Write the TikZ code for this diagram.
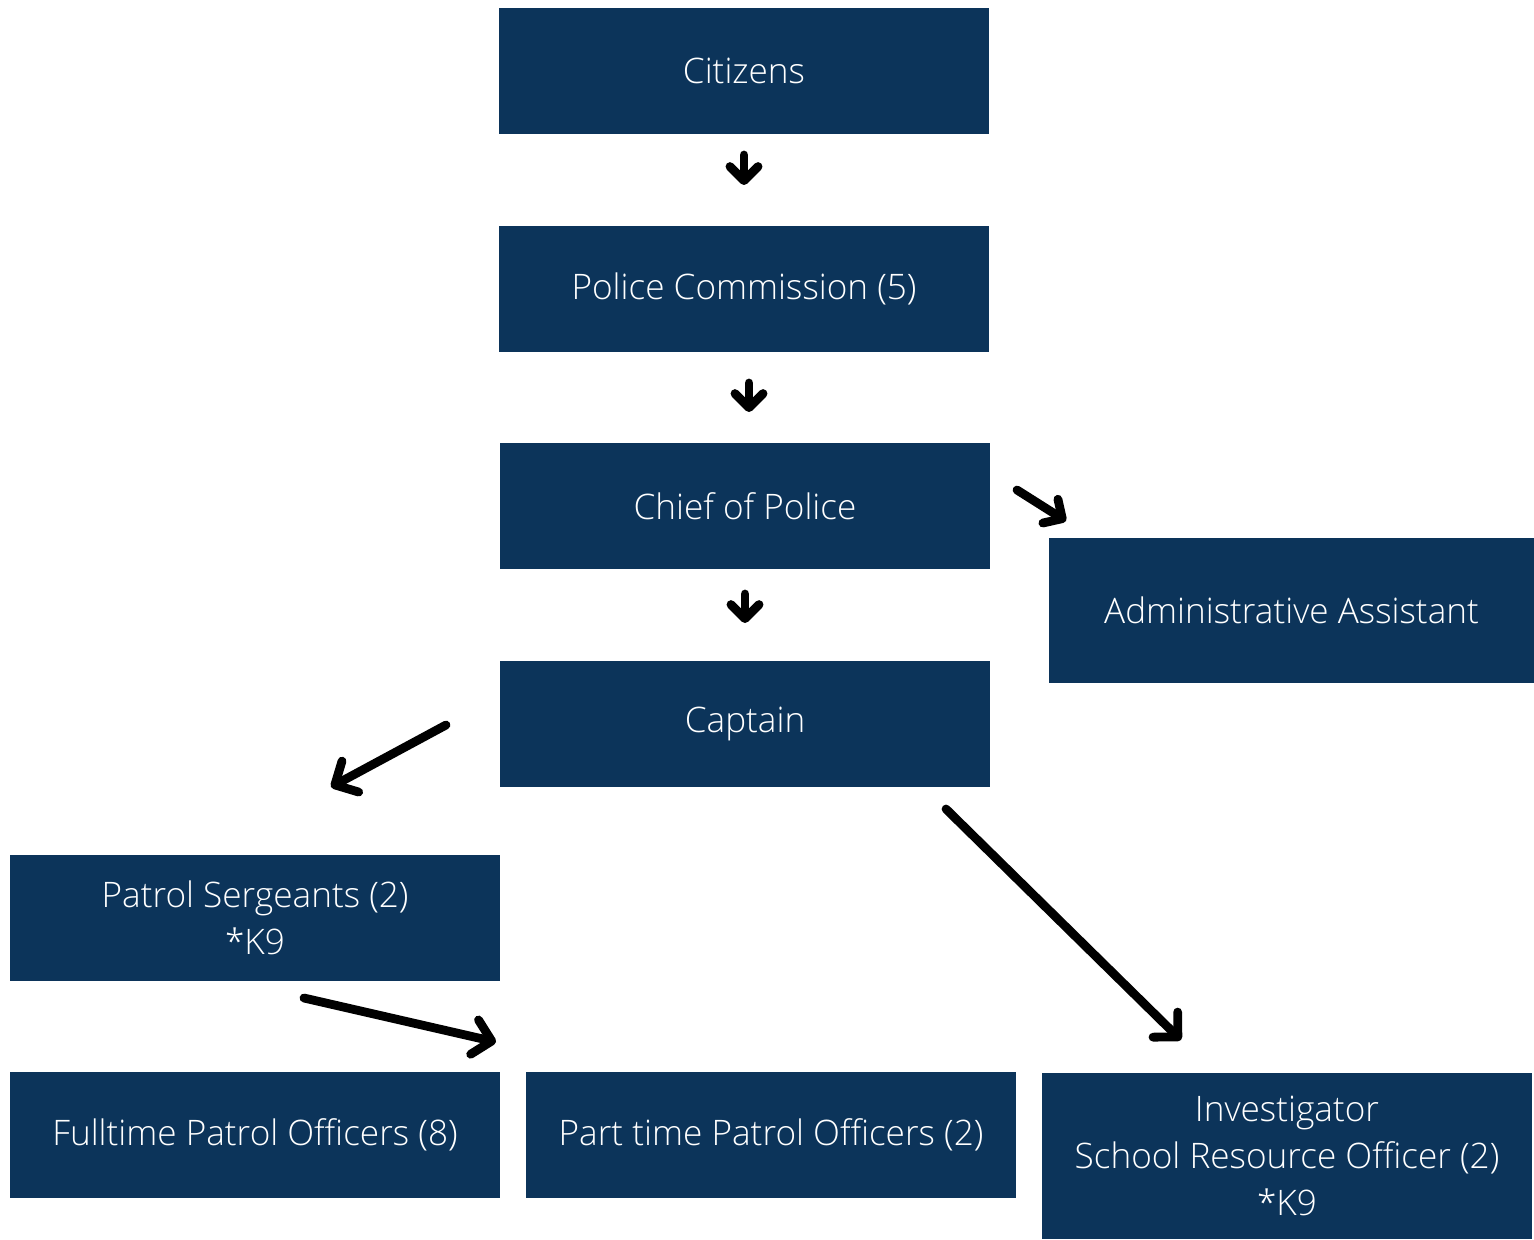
\documentclass[tikz,border=0pt]{standalone}
\usepackage{fontspec}
\setmainfont{Open Sans}[UprightFont=* Light]
\usetikzlibrary{arrows.meta}
\definecolor{navy}{HTML}{0C345A}
\tikzset{
  unit/.style={fill=navy, text=white, minimum width=4.9cm, minimum height=1.26cm,
    inner sep=0pt, align=center, font=\fontsize{10}{13.4}\selectfont},
  link/.style={line width=2.5pt, line cap=round,
    -{Straight Barb[length=4pt,width=8pt,round]}},
  longlink/.style={link, -{Straight Barb[length=5pt,width=10pt,round]}}
}

\begin{document}
\begin{tikzpicture}
  \useasboundingbox (0,0) rectangle (15.34,-12.39);
  % boxes
  \node[unit] (citizens) at (7.44,-0.71) {Citizens};
  \node[unit] (commission) at (7.44,-2.89) {Police Commission (5)};
  \node[unit] (chief) at (7.45,-5.06) {Chief of Police};
  \node[unit, minimum width=4.85cm, minimum height=1.45cm] (admin) at (12.915,-6.105) {Administrative Assistant};
  \node[unit] (captain) at (7.45,-7.24) {Captain};
  \node[unit] (sergeants) at (2.55,-9.18) {Patrol Sergeants (2)\\*K9};
  \node[unit] (fulltime) at (2.55,-11.35) {Fulltime Patrol Officers (8)};
  \node[unit] (parttime) at (7.71,-11.35) {Part time Patrol Officers (2)};
  \node[unit, minimum height=1.66cm] (investigator) at (12.87,-11.56) {Investigator\\School Resource Officer (2)\\*K9};
  % arrow ends
  \coordinate (c1a) at (7.44,-1.55);
  \coordinate (c1b) at (7.44,-1.85);
  \coordinate (c2a) at (7.49,-3.83);
  \coordinate (c2b) at (7.49,-4.12);
  \coordinate (c3a) at (7.45,-5.94);
  \coordinate (c3b) at (7.45,-6.23);
  \coordinate (c4a) at (10.17,-4.90);
  \coordinate (c4b) at (10.66,-5.21);
  \coordinate (c5a) at (4.46,-7.25);
  \coordinate (c5b) at (3.31,-7.87);
  \coordinate (c6a) at (3.04,-9.98);
  \coordinate (c6b) at (4.96,-10.42);
  \coordinate (c7a) at (9.46,-8.09);
  \coordinate (c7b) at (11.81,-10.40);
  % arrows
  \draw[link] (c1a) -- (c1b);
  \draw[link] (c2a) -- (c2b);
  \draw[link] (c3a) -- (c3b);
  \draw[link] (c4a) -- (c4b);
  \draw[longlink] (c5a) -- (c5b);
  \draw[longlink] (c6a) -- (c6b);
  \draw[longlink] (c7a) -- (c7b);
\end{tikzpicture}
\end{document}
